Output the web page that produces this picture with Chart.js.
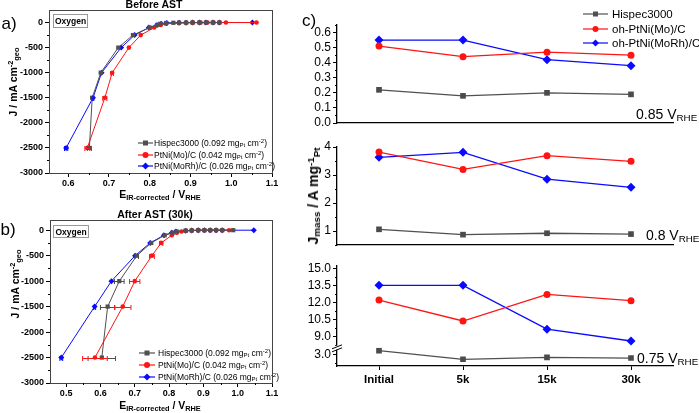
<!DOCTYPE html>
<html>
<head>
<meta charset="utf-8">
<script src="https://cdn.jsdelivr.net/npm/chart.js@4"></script>
<style>
  body { margin: 0; width: 699px; height: 413px; overflow: hidden; position: relative; background: #fff;
         font-family: 'Liberation Sans', Arial, sans-serif; color: #000; }
  canvas { position: absolute; }
  .t { position: absolute; white-space: nowrap; line-height: 1; }
  .c { transform: translate(-50%, -50%); }
  .rot { transform: translate(-50%, -50%) rotate(-90deg); }
  .b { font-weight: bold; }
  sub, sup { font-size: 70%; line-height: 0; }
  sub { vertical-align: -0.25em; }
  sup { vertical-align: 0.45em; }
  .box { position: absolute; border: 1px solid #999; font-weight: bold; font-size: 8.5px;
         display: flex; align-items: center; justify-content: center; }
  .leg { position: absolute; }
  .leg .row { position: absolute; left: 0; display: flex; align-items: center; white-space: nowrap; }
  .leg svg { display: block; }
</style>
</head>
<body>
<canvas id="chartA" width="290" height="195" style="left:0;top:0"></canvas>
<canvas id="chartB" width="290" height="200" style="left:0;top:205px"></canvas>
<canvas id="chart085" width="409" height="140" style="left:290px;top:0"></canvas>
<canvas id="chart080" width="409" height="125" style="left:290px;top:130px"></canvas>
<canvas id="chart075" width="409" height="158" style="left:290px;top:255px"></canvas>

<div class="t c b" style="left:154px;top:4px;font-size:10.5px">Before AST</div>
<div class="t c b" style="left:155px;top:214px;font-size:10.5px">After AST (30k)</div>
<div class="t c" style="left:9px;top:23px;font-size:17px">a)</div>
<div class="t c" style="left:8px;top:229px;font-size:17px">b)</div>
<div class="t c" style="left:309px;top:20px;font-size:17px">c)</div>
<div class="box" style="left:53px;top:14px;width:33px;height:12px">Oxygen</div>
<div class="box" style="left:53px;top:225px;width:34px;height:11px">Oxygen</div>
<div class="t rot b" style="left:13px;top:82px;font-size:10.5px">J / mA cm<sup>-2</sup><sub>geo</sub></div>
<div class="t rot b" style="left:15px;top:284px;font-size:10.5px">J / mA cm<sup>-2</sup><sub>geo</sub></div>
<div class="t c b" style="left:160px;top:194px;font-size:10.5px">E<sub>IR-corrected</sub> / V<sub>RHE</sub></div>
<div class="t c b" style="left:160px;top:405px;font-size:10.5px">E<sub>IR-corrected</sub> / V<sub>RHE</sub></div>
<div class="t rot b" style="left:313px;top:196px;font-size:14px">J<sub>mass</sub> / A mg<sup>-1</sup><sub>Pt</sub></div>
<div class="t" style="left:636px;top:107px;font-size:14px">0.85 V<sub>RHE</sub></div>
<div class="t" style="left:646px;top:228px;font-size:14px">0.8 V<sub>RHE</sub></div>
<div class="t" style="left:637px;top:351px;font-size:14px">0.75 V<sub>RHE</sub></div>
<div id="legA" class="leg" style="left:138px;top:0"></div>
<div id="legB" class="leg" style="left:139px;top:0"></div>
<div id="legC" class="leg" style="left:583px;top:0"></div>

<script>
// ---------- panel a: before AST ----------
const currentA = [-2500, -1500, -1000, -500, -250, -100, -50, -25, -10, -5, -2, -1, -0.5, 0, 0, 0, 0];
const hispecA = [0.652, 0.659, 0.680, 0.723, 0.759, 0.800, 0.818, 0.826, 0.840, 0.858, 0.872, 0.889, 0.905, 0.922, 0.938, 0.955, 0.971];
const moA     = [0.647, 0.690, 0.708, 0.749, 0.778, 0.811, 0.827, 0.840, 0.872, 0.890, 0.906, 0.925, 0.942, 0.957, 0.971, 0.987, 1.062];
const morhA   = [0.595, 0.661, 0.682, 0.730, 0.763, 0.798, 0.818, 0.828, 0.842, 0.872, 0.889, 0.905, 0.922, 0.938, 0.955, 0.971, 1.052];
const hispecErrA = [0.005, 0.002];
const moErrA     = [0.006, 0.005, 0.003];
const morhErrA   = [0.004, 0.002];

// ---------- panel b: after AST (30k) ----------
const currentB = [-2500, -1500, -1000, -500, -250, -100, -50, -25, -10, -5, -2, -1, 0, 0, 0, 0];
const hispecB = [0.604, 0.621, 0.655, 0.706, 0.748, 0.787, 0.810, 0.822, 0.848, 0.866, 0.885, 0.903, 0.920, 0.937, 0.955, 0.987];
const moB     = [0.584, 0.665, 0.700, 0.750, 0.777, 0.808, 0.823, 0.836, 0.850, 0.866, 0.885, 0.903, 0.920, 0.937, 0.955, 0.975];
const morhB   = [0.486, 0.583, 0.632, 0.701, 0.745, 0.785, 0.808, 0.820, 0.848, 0.866, 0.885, 0.903, 0.920, 0.937, 0.955, 1.047];
const hispecErrB = [0.040, 0.021, 0.014, 0.005];
const moErrB     = [0.036, 0.024, 0.015, 0.007, 0.005];
const morhErrB   = [0.004, 0.003];

const curveLabels = [
  'Hispec3000 (0.092 mg<sub>Pt</sub> cm<sup>-2</sup>)',
  'PtNi(Mo)/C (0.042 mg<sub>Pt</sub> cm<sup>-2</sup>)',
  'PtNi(MoRh)/C (0.026 mg<sub>Pt</sub> cm<sup>-2</sup>)'
];
const jTicks = [0, -500, -1000, -1500, -2000, -2500, -3000];
const jMinor = [-250, -750, -1250, -1750, -2250, -2750];
const eTicksA = [0.6, 0.7, 0.8, 0.9, 1.0, 1.1];
const eMinorA = [0.65, 0.75, 0.85, 0.95, 1.05];
const eTicksB = [0.5, 0.6, 0.7, 0.8, 0.9, 1.0, 1.1];
const eMinorB = [0.55, 0.65, 0.75, 0.85, 0.95, 1.05];

// ---------- panel c: mass activity ----------
const cycles = ['Initial', '5k', '15k', '30k'];
const massLabels = ['Hispec3000', 'oh-PtNi(Mo)/C', 'oh-PtNi(MoRh)/C'];
const hispec085 = [0.22, 0.18, 0.20, 0.19];
const mo085     = [0.51, 0.44, 0.47, 0.45];
const morh085   = [0.55, 0.55, 0.42, 0.38];
const hispec080 = [1.06, 0.87, 0.92, 0.89];
const mo080     = [3.82, 3.20, 3.69, 3.49];
const morh080   = [3.63, 3.81, 2.85, 2.56];
const hispec075 = [3.35, 2.59, 2.76, 2.70];
const mo075     = [12.2, 10.36, 12.7, 12.15];
const morh075   = [13.5, 13.5, 9.64, 8.6];
const ticks085 = [0, 0.1, 0.2, 0.3, 0.4, 0.5, 0.6];
const minor085 = [0.05, 0.15, 0.25, 0.35, 0.45, 0.55, 0.65];
const ticks080 = [1, 2, 3, 4];
const minor080 = [0.5, 1.5, 2.5, 3.5];
const ticks075 = [9, 10.5, 12, 13.5, 15];
const minor075 = [8.25, 9.75, 11.25, 12.75, 14.25];
const ticks075low = [3];
const minor075low = [2.25];

const colors = ['rgb(80,80,80)', 'rgb(255,20,20)', 'rgb(10,10,255)'];
const shapes = ['rect', 'circle', 'rectRot'];

Chart.defaults.font.family = "'Liberation Sans', Arial, sans-serif";
Chart.defaults.color = '#000';

const fixedTicks = vals => scale => { scale.ticks = vals.map(v => ({ value: v })); };

// box round the plot area of a and b
const frame = {
  id: 'frame',
  afterDraw(chart) {
    const { ctx, chartArea: a } = chart;
    ctx.save();
    ctx.strokeStyle = '#444';
    ctx.lineWidth = 1;
    ctx.strokeRect(Math.round(a.left) + 0.5, Math.round(a.top) + 0.5, Math.round(a.right - a.left), Math.round(a.bottom - a.top));
    ctx.restore();
  }
};

// short outward minor ticks
const minorTicks = (list) => ({
  id: 'minorTicks',
  afterDraw(chart) {
    const ctx = chart.ctx;
    ctx.save();
    ctx.strokeStyle = '#000';
    ctx.lineWidth = 1;
    list.forEach(m => {
      const s = chart.scales[m.axis];
      m.values.forEach(v => {
        if (v < s.min || v > s.max) return;
        const p = Math.round(s.getPixelForValue(v)) + 0.5;
        ctx.beginPath();
        if (s.isHorizontal()) { ctx.moveTo(p, s.top); ctx.lineTo(p, s.top + m.len); }
        else { ctx.moveTo(s.right - m.len, p); ctx.lineTo(s.right, p); }
        ctx.stroke();
      });
    });
    ctx.restore();
  }
});

// horizontal error bars
const errorBars = (errs) => ({
  id: 'errorBars',
  afterDatasetsDraw(chart) {
    const { ctx, scales: { x, y } } = chart;
    ctx.save();
    ctx.lineWidth = 1;
    chart.data.datasets.forEach((ds, i) => {
      (errs[i] || []).forEach((e, j) => {
        if (!e) return;
        const pt = ds.data[j];
        const x0 = x.getPixelForValue(pt.x - e), x1 = x.getPixelForValue(pt.x + e);
        const py = Math.round(y.getPixelForValue(pt.y)) + 0.5;
        ctx.strokeStyle = ds.borderColor;
        ctx.beginPath();
        ctx.moveTo(x0, py); ctx.lineTo(x1, py);
        ctx.moveTo(x0, py - 2.5); ctx.lineTo(x0, py + 2.5);
        ctx.moveTo(x1, py - 2.5); ctx.lineTo(x1, py + 2.5);
        ctx.stroke();
      });
    });
    ctx.restore();
  }
});

function polCurve(id, current, series, errs, xMin, yMax, xTicks, xMinor, padTop, yWidth) {
  const datasets = series.map((xs, i) => ({
    data: xs.map((v, j) => ({ x: v, y: current[j] })),
    showLine: true,
    borderColor: colors[i],
    backgroundColor: colors[i],
    borderWidth: 1,
    pointStyle: shapes[i],
    pointRadius: i === 1 ? 2.3 : 3,
    pointBorderWidth: 0
  }));
  new Chart(document.getElementById(id), {
    type: 'scatter',
    data: { datasets },
    options: {
      responsive: false,
      animation: false,
      events: [],
      layout: { padding: { top: padTop, right: 18, left: 0, bottom: 0 } },
      plugins: { legend: { display: false }, tooltip: { enabled: false } },
      scales: {
        x: {
          type: 'linear', min: xMin, max: 1.1,
          afterBuildTicks: fixedTicks(xTicks),
          afterFit: s => { s.height = 22; },
          grid: { drawOnChartArea: false, tickLength: 4, color: '#000' },
          border: { color: '#444' },
          ticks: { autoSkip: false, maxRotation: 0, padding: 1, font: { size: 9, weight: 'bold' }, callback: v => v.toFixed(1) }
        },
        y: {
          type: 'linear', min: -3000, max: yMax,
          afterBuildTicks: fixedTicks(jTicks),
          afterFit: s => { s.width = yWidth; },
          grid: { drawOnChartArea: false, tickLength: 4, color: '#000' },
          border: { color: '#444' },
          ticks: { autoSkip: false, padding: 2, font: { size: 9, weight: 'bold' }, callback: v => String(v) }
        }
      }
    },
    plugins: [frame, minorTicks([{ axis: 'x', values: xMinor, len: 2 }, { axis: 'y', values: jMinor, len: 2 }]), errorBars(errs)]
  });
}

polCurve('chartA', currentA, [hispecA, moA, morhA], [hispecErrA, moErrA, morhErrA], 0.553, 250, eTicksA, eMinorA, 10, 49);
polCurve('chartB', currentB, [hispecB, moB, morhB], [hispecErrB, moErrB, morhErrB], 0.453, 200, eTicksB, eMinorB, 15, 50);

// ---------- mass activity panels ----------
function massSets(vals, axes) {
  return vals.map((v, i) => ({
    label: massLabels[i],
    data: v,
    yAxisID: axes[i],
    borderColor: colors[i],
    backgroundColor: i === 0 ? 'rgb(75,75,75)' : colors[i],
    borderWidth: 1.3,
    pointStyle: shapes[i],
    pointRadius: i === 1 ? 3.5 : (i === 0 ? 4 : 4.5),
    pointBorderWidth: 0
  }));
}

function yScale(min, max, ticks, fmt, extra) {
  return Object.assign({
    type: 'linear', min, max, position: 'left',
    afterBuildTicks: fixedTicks(ticks),
    afterFit: s => { s.width = 47; },
    grid: { display: true, drawOnChartArea: false, tickLength: 4, color: '#000' },
    border: { color: '#000', width: 1.3 },
    ticks: { autoSkip: false, padding: 2, font: { size: 12 }, callback: fmt }
  }, extra || {});
}

function xScale(show, height) {
  return {
    type: 'category', offset: true,
    afterFit: s => { s.height = height; },
    grid: { display: show, drawOnChartArea: false, tickLength: 4, color: '#000', offset: false },
    border: { display: true, color: '#000', width: 1.3 },
    ticks: { display: show, padding: 3, font: { size: 11.5, weight: 'bold' } }
  };
}

function massChart(id, datasets, scales, padTop, plugins) {
  new Chart(document.getElementById(id), {
    type: 'line',
    data: { labels: cycles, datasets },
    options: {
      responsive: false,
      animation: false,
      events: [],
      layout: { padding: { top: padTop, right: 26, left: 0, bottom: 0 } },
      plugins: { legend: { display: false }, tooltip: { enabled: false } },
      scales
    },
    plugins
  });
}

massChart('chart085', massSets([hispec085, mo085, morh085], ['y', 'y', 'y']),
  { x: xScale(false, 17), y: yScale(0, 0.65, ticks085, v => v.toFixed(1)) }, 25,
  [minorTicks([{ axis: 'y', values: minor085, len: 2 }])]);

massChart('chart080', massSets([hispec080, mo080, morh080], ['y', 'y', 'y']),
  { x: xScale(false, 10), y: yScale(0.5, 4, ticks080, v => String(v)) }, 17,
  [minorTicks([{ axis: 'y', values: minor080, len: 2 }])]);

// broken axis: two stacked y scales
const axisBreak = {
  id: 'axisBreak',
  afterDraw(chart) {
    const { ctx } = chart;
    const s = chart.scales.yHi;
    const x = s.right, y = s.bottom;
    ctx.save();
    ctx.fillStyle = '#fff';
    ctx.fillRect(x - 2, y - 2, 4, 4);
    ctx.strokeStyle = '#000';
    ctx.lineWidth = 1;
    ctx.beginPath();
    ctx.moveTo(x - 5, y + 1); ctx.lineTo(x + 5, y - 3);
    ctx.moveTo(x - 5, y + 4); ctx.lineTo(x + 5, y);
    ctx.stroke();
    ctx.restore();
  }
};

massChart('chart075', massSets([hispec075, mo075, morh075], ['yLow', 'yHi', 'yHi']),
  {
    x: xScale(true, 47),
    yLow: yScale(2.0, 3.6, ticks075low, v => v.toFixed(1), { stack: 'brk', stackWeight: 1.6 }),
    yHi: yScale(8.0, 15.2, ticks075, v => v.toFixed(1), { stack: 'brk', stackWeight: 7.2 })
  }, 11,
  [minorTicks([{ axis: 'yHi', values: minor075, len: 2 }, { axis: 'yLow', values: minor075low, len: 2 }]), axisBreak]);

// ---------- legends ----------
function swatch(i, w, h) {
  const c = colors[i], m = w / 2, y = h / 2;
  let mark;
  if (shapes[i] === 'rect') mark = `<rect x="${m - 2.5}" y="${y - 2.5}" width="5" height="5" fill="${c}"/>`;
  else if (shapes[i] === 'circle') mark = `<circle cx="${m}" cy="${y}" r="3" fill="${c}"/>`;
  else mark = `<polygon points="${m},${y - 3.5} ${m + 3.5},${y} ${m},${y + 3.5} ${m - 3.5},${y}" fill="${c}"/>`;
  return `<svg width="${w}" height="${h}"><line x1="0" y1="${y}" x2="${w}" y2="${y}" stroke="${c}" stroke-width="1.2"/>${mark}</svg>`;
}

function legend(id, labels, rowsY, w, size, gap) {
  const el = document.getElementById(id);
  el.innerHTML = labels.map((lab, i) =>
    `<div class="row" style="top:${rowsY[i] - 5}px;height:10px;font-size:${size}px">${swatch(i, w, 10)}<span style="margin-left:${gap}px">${lab}</span></div>`
  ).join('');
}

legend('legA', curveLabels, [143, 154.5, 166], 15, 8.5, 1);
legend('legB', curveLabels, [353, 365, 377], 16, 8.5, 3);
legend('legC', massLabels, [14, 29, 43], 25, 11.5, 4);
</script>
</body>
</html>
